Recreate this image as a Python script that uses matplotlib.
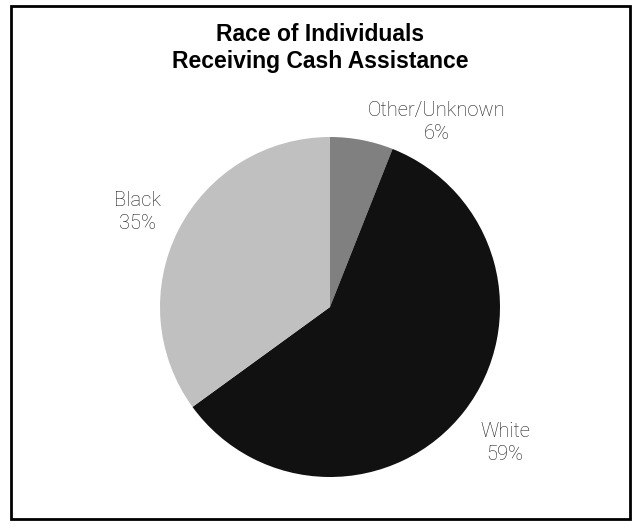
import matplotlib
matplotlib.use("Agg")
import matplotlib.pyplot as plt
from matplotlib.patches import Rectangle

# data
labels = ["Other/Unknown", "White", "Black"]
shares = [6, 59, 35]
colours = ["#808080", "#111111", "#c0c0c0"]

# label centre points in pixels (x, y from top)
label_pos = [(437, 122), (505, 443), (137, 212)]

W, H = 641, 527
fig = plt.figure(figsize=(W / 100, H / 100), dpi=100)
ax = fig.add_axes([0, 0, 1, 1])

cx, cy, r = 330, H - 307, 170
ax.pie(shares, colors=colours, startangle=90, counterclock=False,
       center=(cx, cy), radius=r, frame=True,
       wedgeprops=dict(linewidth=0))
ax.set_xlim(0, W)
ax.set_ylim(0, H)
ax.set_aspect("equal")
ax.axis("off")

for lab, val, (x, y) in zip(labels, shares, label_pos):
    ax.text(x, H - y, "%s\n%d%%" % (lab, val), ha="center", va="center",
            fontsize=14.5, family="Roboto", fontweight="light",
            color="#1a1a1a", linespacing=1.25)

fig.text(0.5, 1 - 48 / H, "Race of Individuals\nReceiving Cash Assistance",
         ha="center", va="center", fontsize=16.5, fontweight="bold",
         family="Liberation Sans", linespacing=1.25)

# border round the chart
fig.patches.append(Rectangle((11 / W, 1 - 519 / H), 619 / W, 513 / H,
                             transform=fig.transFigure, fill=False,
                             edgecolor="black", linewidth=2))

fig.savefig("out.png", dpi=100)
